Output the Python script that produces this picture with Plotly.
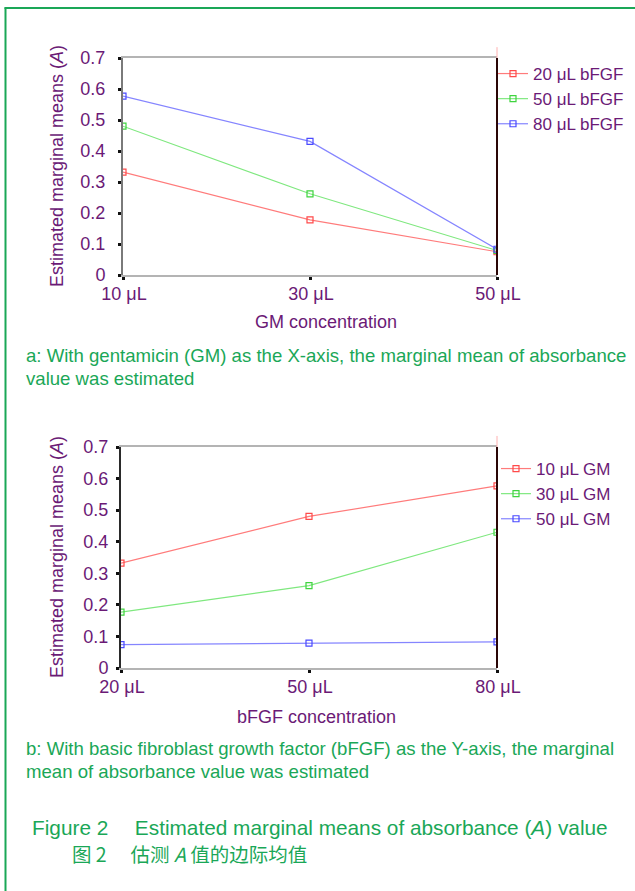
import plotly.graph_objects as go

W, H = 635, 891

# ---- data ----
gm_levels = ["10 μL", "30 μL", "50 μL"]
bfgf_levels = ["20 μL", "50 μL", "80 μL"]

# panel a: x = GM, series = bFGF
a_names = ["20 μL bFGF", "50 μL bFGF", "80 μL bFGF"]
a_20 = [0.332, 0.178, 0.075]
a_50 = [0.480, 0.262, 0.079]
a_80 = [0.577, 0.431, 0.083]

# panel b: x = bFGF, series = GM
b_names = ["10 μL GM", "30 μL GM", "50 μL GM"]
b_10 = [0.332, 0.480, 0.577]
b_30 = [0.177, 0.261, 0.430]
b_50 = [0.074, 0.079, 0.083]

y_ticks = [0, 0.1, 0.2, 0.3, 0.4, 0.5, 0.6, 0.7]
y_ticktext = ["0", "0.1", "0.2", "0.3", "0.4", "0.5", "0.6", "0.7"]

line_cols = ["#ff7b7b", "#7fe87f", "#8585ff"]
mark_cols = ["#ff4a4a", "#3fd43f", "#4a4aff"]

PURPLE = "#6b1a76"
GREEN = "#1aa757"
FONT = "Liberation Sans, Arial, sans-serif"

fig = go.Figure()

def add_series(xcats, ys, name, i, xa, ya, legend):
    fig.add_trace(go.Scatter(
        x=xcats, y=ys, name=name, mode="lines+markers",
        xaxis=xa, yaxis=ya, legend=legend,
        line=dict(color=line_cols[i], width=1.2),
        marker=dict(symbol="square-open", size=6, color=mark_cols[i],
                    line=dict(width=1.2, color=mark_cols[i])),
    ))

for i, (nm, ys) in enumerate(zip(a_names, [a_20, a_50, a_80])):
    add_series(gm_levels, ys, nm, i, "x", "y", "legend")
for i, (nm, ys) in enumerate(zip(b_names, [b_10, b_30, b_50])):
    add_series(bfgf_levels, ys, nm, i, "x2", "y2", "legend2")

def px_x(p):
    return p / W

def px_y(p):
    return 1 - p / H

ax_common = dict(
    type="category", range=[0, 2], showgrid=False, zeroline=False,
    showline=True, mirror=True, linecolor="#b4b4b4", linewidth=2,
    ticks="outside", ticklen=3, tickwidth=3, tickcolor="#111",
    tickfont=dict(family=FONT, size=18, color=PURPLE),
    ticklabelstandoff=-2, ticklabelshift=1, automargin=False,
)
ay_common = dict(
    range=[0, 0.7], tickvals=y_ticks, ticktext=y_ticktext,
    showgrid=False, zeroline=False, showline=True,
    linewidth=2, ticks="outside", ticklen=3, tickwidth=3, tickcolor="#111",
    tickfont=dict(family=FONT, size=18, color=PURPLE), automargin=False,
)

LEG_FONT = dict(family=FONT, size=17, color=PURPLE)

fig.update_layout(
    width=W, height=H, margin=dict(l=0, r=0, t=0, b=0, pad=0, autoexpand=False),
    paper_bgcolor="white", plot_bgcolor="white",
    font=dict(family=FONT, color=PURPLE),
    xaxis=dict(domain=[px_x(123), px_x(497)], anchor="y", **ax_common),
    yaxis=dict(domain=[px_y(275), px_y(58)], anchor="x", linecolor="#7a7a7a",
               ticklabelstandoff=9, **ay_common),
    xaxis2=dict(domain=[px_x(121), px_x(497)], anchor="y2", **ax_common),
    yaxis2=dict(domain=[px_y(668), px_y(447)], anchor="x2", linecolor="#2a2a2a",
                ticklabelstandoff=4, **ay_common),
    legend=dict(x=px_x(493), y=px_y(56), xanchor="left", yanchor="top",
                bgcolor="rgba(0,0,0,0)", font=LEG_FONT,
                itemwidth=30, tracegroupgap=0),
    legend2=dict(x=px_x(496), y=px_y(451), xanchor="left", yanchor="top",
                 bgcolor="rgba(0,0,0,0)", font=LEG_FONT,
                 itemwidth=30, tracegroupgap=0),
    showlegend=True,
)

shapes = []
for xa, ya in [("x", "y"), ("x2", "y2")]:
    # dark right edge of the plot frame
    shapes.append(dict(type="line", xref=f"{xa} domain", yref=f"{ya} domain",
                       x0=1, x1=1, y0=0, y1=1, line=dict(color="#2a0606", width=2)))
    # faint pink tick above the right edge
    shapes.append(dict(type="line", xref=f"{xa} domain", yref=f"{ya} domain",
                       x0=1, x1=1, y0=1, y1=1.05, line=dict(color="#ffb0b0", width=1)))
# green frame (left and top)
shapes.append(dict(type="line", xref="paper", yref="paper", x0=px_x(5.5), x1=px_x(5.5),
                   y0=0, y1=px_y(7.5), line=dict(color=GREEN, width=2)))
shapes.append(dict(type="line", xref="paper", yref="paper", x0=px_x(4.5), x1=1,
                   y0=px_y(8), y1=px_y(8), line=dict(color=GREEN, width=2)))
fig.update_layout(shapes=shapes)

ann = []
def text(x, y, s, size, color, xanchor="left", angle=0, yanchor="middle", family=FONT):
    ann.append(dict(x=px_x(x), y=px_y(y), xref="paper", yref="paper", text=s,
                    showarrow=False, xanchor=xanchor, yanchor=yanchor, textangle=angle,
                    font=dict(family=family, size=size, color=color)))

ytitle = "Estimated marginal means (<i>A</i>)"
text(57, 166, ytitle, 18, PURPLE, xanchor="center", angle=-90)
text(57, 557, ytitle, 18, PURPLE, xanchor="center", angle=-90)
text(326, 322, "GM concentration", 18, PURPLE, xanchor="center")
text(316, 717, "bFGF concentration", 18, PURPLE, xanchor="center")

CAP = 18.6
text(24, 356, "a: With gentamicin (GM) as the X-axis, the marginal mean of absorbance", CAP, GREEN)
text(24, 378, "value was estimated", CAP, GREEN)
text(24, 748, "b: With basic fibroblast growth factor (bFGF) as the Y-axis, the marginal", CAP, GREEN)
text(24, 771, "mean of absorbance value was estimated", CAP, GREEN)
text(30, 827, "Figure 2\u2003 Estimated marginal means of absorbance (<i>A</i>) value", 20.8, GREEN)
text(70, 853, "图 2\u2003 估测 <i>A</i> 值的边际均值", 19.5, GREEN,
     family="Noto Sans CJK SC, sans-serif")
fig.update_layout(annotations=ann)

fig.write_html("out.html", config={"displayModeBar": False},
               post_script="document.body.style.margin='0';")
